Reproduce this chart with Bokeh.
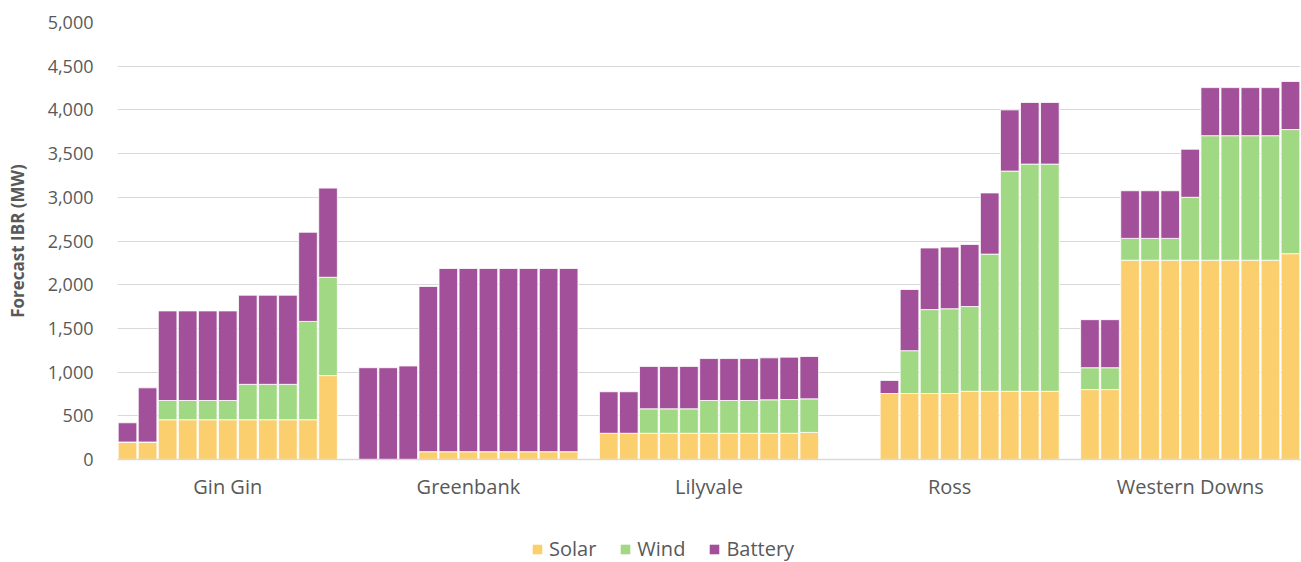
import numpy as np
from bokeh.plotting import figure
from bokeh.layouts import column
from bokeh.models import (ColumnDataSource, Range1d, FixedTicker, NumeralTickFormatter,
                          Legend, LegendItem)
from bokeh.embed import file_html
from bokeh.resources import INLINE

# ---------------- data ----------------
regions = ["Gin Gin", "Greenbank", "Lilyvale", "Ross", "Western Downs"]
series = ["Solar", "Wind", "Battery"]
colors = ["#FCCF6E", "#A1D884", "#A2509A"]

# 11 forecast years per region (None = no value)
gin_gin_solar   = [200, 200, 455, 455, 455, 455, 455, 455, 455, 455, 960]
gin_gin_wind    = [0, 0, 220, 220, 220, 220, 405, 405, 405, 1125, 1125]
gin_gin_battery = [220, 620, 1025, 1025, 1025, 1025, 1020, 1020, 1020, 1020, 1020]

greenbank_solar   = [0, 0, 0, 90, 90, 90, 90, 90, 90, 90, 90]
greenbank_wind    = [0, 0, 0, 0, 0, 0, 0, 0, 0, 0, 0]
greenbank_battery = [1050, 1050, 1070, 1890, 2095, 2095, 2095, 2095, 2095, 2095, 2095]

lilyvale_solar   = [300, 300, 300, 300, 300, 300, 300, 300, 300, 300, 310]
lilyvale_wind    = [0, 0, 280, 280, 280, 375, 375, 375, 383, 386, 384]
lilyvale_battery = [475, 475, 485, 485, 485, 480, 480, 480, 480, 485, 484]

ross_solar   = [None, None, 755, 755, 755, 755, 780, 780, 780, 780, 780]
ross_wind    = [None, None, 0, 490, 960, 970, 970, 1570, 2520, 2600, 2600]
ross_battery = [None, None, 150, 700, 705, 705, 710, 700, 700, 705, 705]

western_downs_solar   = [800, 800, 2280, 2280, 2280, 2280, 2280, 2280, 2280, 2280, 2355]
western_downs_wind    = [250, 250, 250, 250, 250, 720, 1425, 1425, 1425, 1425, 1420]
western_downs_battery = [550, 550, 545, 545, 545, 550, 550, 550, 550, 550, 550]

solar_by_region = [gin_gin_solar, greenbank_solar, lilyvale_solar, ross_solar, western_downs_solar]
wind_by_region = [gin_gin_wind, greenbank_wind, lilyvale_wind, ross_wind, western_downs_wind]
battery_by_region = [gin_gin_battery, greenbank_battery, lilyvale_battery, ross_battery, western_downs_battery]

# ---------------- layout of slots ----------------
n_years = 11
slot = n_years + 1  # one empty slot between regions
xs, sol, win, bat = [], [], [], []
for g in range(len(regions)):
    for i in range(n_years):
        xs.append(g * slot + i + 0.5)
        sol.append(solar_by_region[g][i])
        win.append(wind_by_region[g][i])
        bat.append(battery_by_region[g][i])

src = ColumnDataSource(dict(
    x=xs,
    Solar=np.array(sol, dtype=float),
    Wind=np.array(win, dtype=float),
    Battery=np.array(bat, dtype=float),
))

x_max = len(regions) * slot - 1
centers = [g * slot + n_years / 2 for g in range(len(regions))]

TEXT = "#595959"
FONT = "Open Sans"

p = figure(width=1301, height=514, output_backend="svg", toolbar_location=None,
           x_range=Range1d(0, x_max), y_range=Range1d(0, 5000),
           min_border_left=117, min_border_right=1, min_border_top=22, min_border_bottom=55)
p.outline_line_color = None
p.background_fill_color = "white"
p.border_fill_color = "white"

renderers = p.vbar_stack(series, x="x", width=0.93, source=src, color=colors,
                         line_color="white", line_width=0.8)

# y axis
p.yaxis.ticker = FixedTicker(ticks=list(range(0, 5001, 500)))
p.yaxis.formatter = NumeralTickFormatter(format="0,0")
p.yaxis.axis_line_color = None
p.yaxis.major_tick_line_color = None
p.yaxis.minor_tick_line_color = None
p.yaxis.major_tick_out = 0
p.yaxis.major_tick_in = 0
p.yaxis.major_label_text_font = FONT
p.yaxis.major_label_text_font_size = "18px"
p.yaxis.major_label_text_color = TEXT
p.yaxis.major_label_standoff = 24
p.yaxis.axis_label = "Forecast IBR (MW)"
p.yaxis.axis_label_text_font = FONT
p.yaxis.axis_label_text_font_size = "17px"
p.yaxis.axis_label_text_font_style = "bold"
p.yaxis.axis_label_text_color = TEXT
p.yaxis.axis_label_standoff = 16

# x axis
p.xaxis.ticker = FixedTicker(ticks=centers)
p.xaxis.major_label_overrides = {c: r for c, r in zip(centers, regions)}
p.xaxis.axis_line_color = "#D9D9D9"
p.xaxis.axis_line_width = 1.5
p.xaxis.major_tick_line_color = None
p.xaxis.minor_tick_line_color = None
p.xaxis.major_tick_out = 0
p.xaxis.major_tick_in = 0
p.xaxis.major_label_text_font = FONT
p.xaxis.major_label_text_font_size = "20px"
p.xaxis.major_label_text_color = TEXT
p.xaxis.major_label_standoff = 13

p.xgrid.grid_line_color = None
p.ygrid.grid_line_color = "#D9D9D9"
p.ygrid.grid_line_width = 1.2

# ---------------- legend strip ----------------
q = figure(width=1301, height=48, output_backend="svg", toolbar_location=None,
           x_range=Range1d(0, 1), y_range=Range1d(0, 1),
           min_border_left=0, min_border_right=0, min_border_top=0, min_border_bottom=0)
q.axis.visible = False
q.grid.visible = False
q.outline_line_color = None
q.background_fill_color = "white"
q.border_fill_color = "white"
# legend keys only: zero-height bars, nothing visible in the strip
key_renderers = [q.vbar(x=[0.5], top=[0], bottom=[0], width=0.1, fill_color=c, line_color=None)
                 for c in colors]

legend = Legend(items=[LegendItem(label=s, renderers=[r]) for s, r in zip(series, key_renderers)],
                orientation="horizontal", location=(414, 0))
legend.border_line_color = None
legend.background_fill_alpha = 0
legend.glyph_width = 12
legend.glyph_height = 12
legend.label_text_font = FONT
legend.label_text_font_size = "20px"
legend.label_text_color = TEXT
legend.label_height = 20
legend.spacing = 23
legend.padding = 0
legend.margin = 0
legend.label_standoff = 6
q.add_layout(legend)

layout = column(p, q, spacing=0)
open("out.html", "w").write(file_html(layout, INLINE))
